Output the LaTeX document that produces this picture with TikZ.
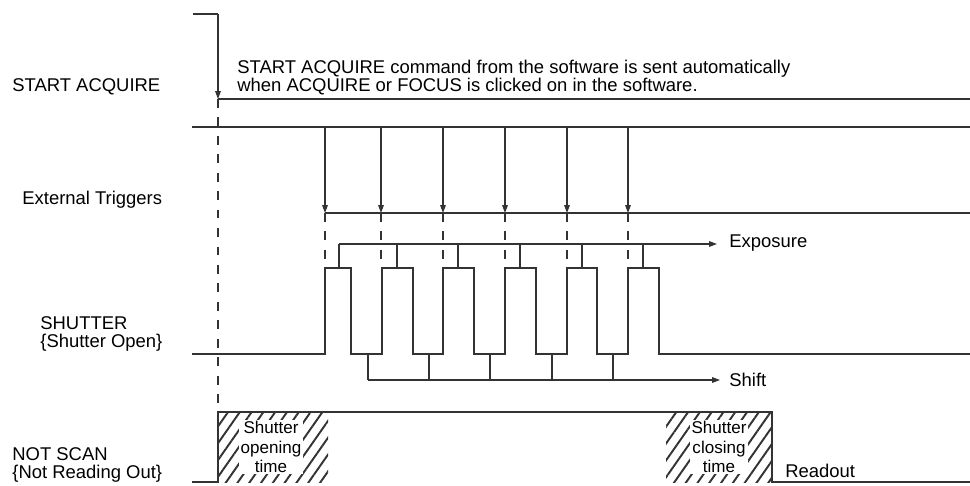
\documentclass[tikz,border=0pt]{standalone}
\usepackage{fontspec}
\setmainfont{Liberation Sans}
\usetikzlibrary{arrows.meta,patterns.meta}

\begin{document}
\begin{tikzpicture}[x=0.02cm,y=-0.02cm,
  font=\fontsize{10.5}{10.2}\selectfont,
  sig/.style={line width=0.6pt,draw=black!80},
  gd/.style={line width=0.6pt,draw=black!80,dash pattern=on 5pt off 5.5pt},
  a/.style={sig,-{Triangle[length=4.5pt,width=3.2pt]}},
  lbl/.style={inner sep=0pt,anchor=west,align=left},
  hat/.style={pattern={Lines[angle=55,distance=5.5pt,line width=1.1pt]},pattern color=black!80},
  tb/.style={fill=white,inner sep=1pt,align=center,font=\fontsize{9.7}{11}\selectfont}]
\useasboundingbox (0,0) rectangle (970,485);
% signal names
\node[lbl] (sa) at (12,87) {START ACQUIRE};
\node[lbl] (et) at (22,200) {External Triggers};
\node[lbl] (sh) at (40,334) {SHUTTER\\\{Shutter Open\}};
\node[lbl] (ns) at (12,465) {NOT SCAN\\\{Not Reading Out\}};
% software command
\node[inner sep=0pt,anchor=north west,align=left,font=\fontsize{10.5}{8.5}\selectfont] (cm) at (237,59.3)
  {START ACQUIRE command from the software is sent automatically\\when ACQUIRE or FOCUS is clicked on in the software.};
\draw[sig] (193,14) -- (218,14);
\draw[a] (218,14) -- (218,99);
\draw[sig] (218,99) -- (970,99);
\draw[gd] (218,99) -- (218,412);
% external triggers
\draw[sig] (192,127) -- (970,127);
\draw[sig] (325,213) -- (970,213);
\foreach \x in {325,381,443,505,567,628} {
  \draw[a] (\x,127) -- (\x,213);
  \draw[gd] (\x,213) -- (\x,268);
}
% shutter
\draw[sig] (192,354) \foreach \r/\f in {325/351,382/413,443/474,505/536,567/597,628/659} {
  -- (\r,354) -- (\r,268) -- (\f,268) -- (\f,354)} -- (970,354);
\draw[a] (339,244) -- (717,244);
\foreach \x in {339,397,458,520,582,643} \draw[sig] (\x,244) -- (\x,268);
\node[lbl] (ex) at (729,243) {Exposure};
\draw[a] (368,380) -- (720,380);
\foreach \x in {368,429,490,552,613} \draw[sig] (\x,354) -- (\x,380);
\node[lbl] (sf) at (729,380) {Shift};
% not scan
\fill[hat] (218,412) rectangle (328,482);
\fill[hat] (666,412) rectangle (772,482);
\draw[sig] (192,482) -- (218,482) -- (218,412) -- (772,412) -- (772,482) -- (970,482);
\node[tb] (op) at (271,447) {Shutter\\opening\\time};
\node[tb] (cl) at (719,447) {Shutter\\closing\\time};
\node[lbl] (ro) at (785,471) {Readout};
\end{tikzpicture}
\end{document}
